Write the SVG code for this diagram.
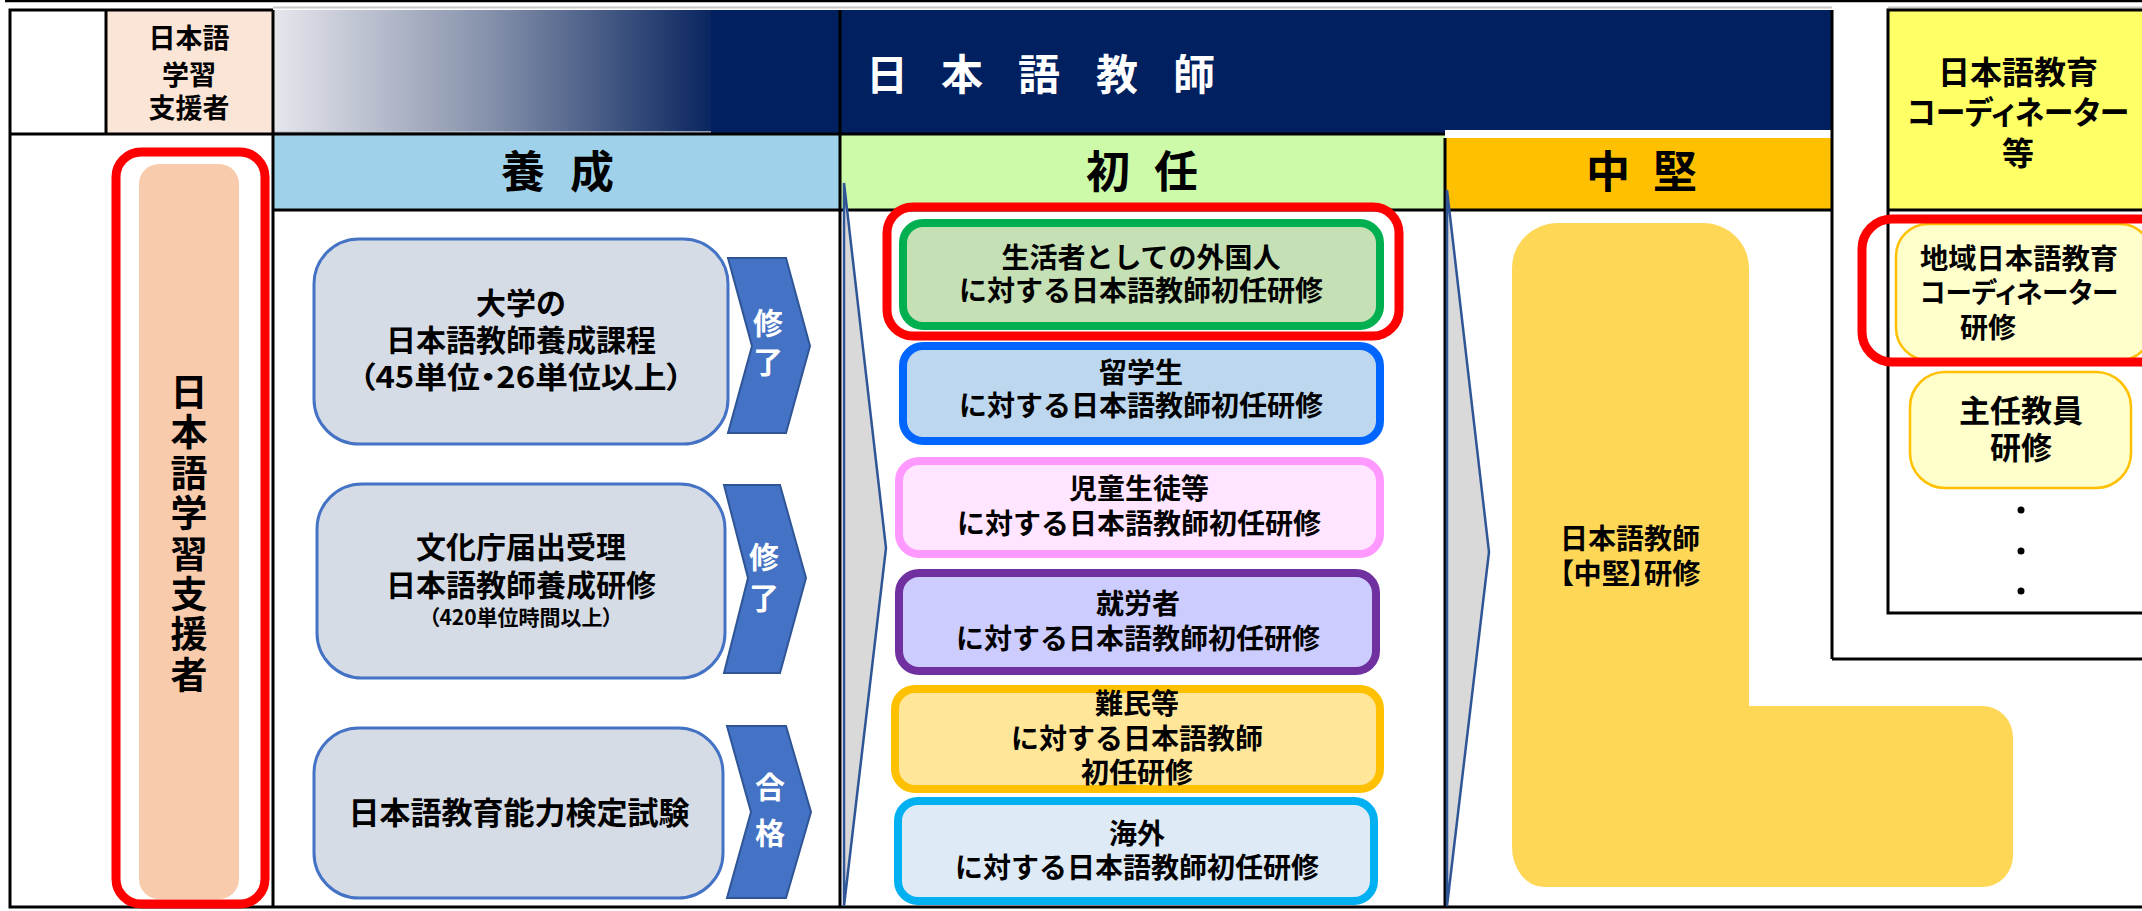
<svg xmlns="http://www.w3.org/2000/svg" width="2142" height="911" viewBox="0 0 2142 911">
<defs>
<linearGradient id="grad" x1="0" y1="0" x2="1" y2="0">
<stop offset="0" stop-color="#E6E6EC"/>
<stop offset="0.5" stop-color="#8490AA"/>
<stop offset="1" stop-color="#0A2660"/>
</linearGradient>
<style>
.t{font-family:"Noto Sans CJK JP","Noto Sans",sans-serif;font-weight:700;fill:#000;text-anchor:middle}
.l{text-anchor:start}
.w{fill:#fff}
.palt{font-feature-settings:"palt"}
.grid{stroke:#000;stroke-width:3;fill:none}
.ybox{fill:#D6DCE5;stroke:#4472C4;stroke-width:3}
.chev{fill:#4472C4;stroke:#2F5597;stroke-width:2}
.garrow{fill:#D9D9D9;stroke:#2F5597;stroke-width:2.5}
.red{fill:none;stroke:#FF0000;stroke-width:9}
.cbox{stroke-width:8}
.lyel{fill:#FFFFCC;stroke:#FFC000;stroke-width:2.5}
</style>
</defs>
<rect width="2142" height="911" fill="#fff"/>

<g id="header-backgrounds">
<rect x="106" y="10" width="167" height="124" fill="#FBE5D6"/>
<rect x="273" y="10" width="1559" height="124" fill="#002060"/>
<rect x="273" y="10" width="438" height="122" fill="url(#grad)"/>
<line x1="273" y1="132" x2="711" y2="132" stroke="#C8C8CC" stroke-width="1.5"/>
<rect x="1445" y="130" width="387" height="8" fill="#fff"/>
<rect x="273" y="134" width="567" height="76" fill="#9FD2EA"/>
<rect x="840" y="134" width="605" height="76" fill="#CCFAA8"/>
<rect x="1445" y="138" width="387" height="72" fill="#FFC000"/>
<rect x="1888" y="10" width="254" height="200" fill="#FFFF66"/>
</g>

<g id="grid">
<line x1="5" y1="1" x2="2142" y2="1" stroke="#000" stroke-width="2.5"/>
<line x1="273" y1="7.5" x2="1832" y2="7.5" stroke="#C8C8C8" stroke-width="2"/>
<line x1="1888" y1="7.5" x2="2142" y2="7.5" stroke="#C8C8C8" stroke-width="2"/>
<polyline class="grid" points="273,10 10,10 10,907 2142,907"/>
<line class="grid" x1="106" y1="10" x2="106" y2="134"/>
<line class="grid" x1="273" y1="10" x2="273" y2="907"/>
<line class="grid" x1="10" y1="134" x2="1445" y2="134"/>
<line class="grid" x1="273" y1="210" x2="1832" y2="210"/>
<line x1="840" y1="10" x2="840" y2="907" stroke="#000" stroke-width="3"/>
<line class="grid" x1="1445" y1="138" x2="1445" y2="907"/>
<line class="grid" x1="1832" y1="10" x2="1832" y2="659"/>
<line class="grid" x1="1832" y1="659" x2="2142" y2="659"/>
<polyline class="grid" points="2142,10 1888,10 1888,613 2142,613"/>
<line class="grid" x1="1888" y1="210" x2="2142" y2="210"/>
</g>

<g id="header-texts">
<g id="hdr-supporter">
<text class="t" x="189" y="48" font-size="27">日本語</text>
<text class="t" x="189" y="85" font-size="27">学習</text>
<text class="t" x="189" y="118" font-size="27">支援者</text>
</g>
<g id="hdr-teacher">
<text class="t w" x="887 962 1039 1117 1194" y="90" font-size="42">日本語教師</text>
</g>
<g id="hdr-yousei"><text class="t" x="523 592" y="188" font-size="44">養成</text></g>
<g id="hdr-shonin"><text class="t" x="1108 1176" y="188" font-size="44">初任</text></g>
<g id="hdr-chuken"><text class="t" x="1608 1675" y="188" font-size="44">中堅</text></g>
<g id="hdr-coordinator">
<text class="t" x="2018" y="84" font-size="32">日本語教育</text>
<text class="t palt" x="2018" y="124" font-size="32" textLength="222" lengthAdjust="spacingAndGlyphs">コーディネーター</text>
<text class="t" x="2018" y="165" font-size="32">等</text>
</g>
</g>

<g id="supporter-column">
<rect x="116" y="152" width="149" height="752" rx="25" class="red"/>
<rect x="139" y="164" width="100" height="735" rx="20" fill="#F8CBAD"/>
<text class="t" font-size="37" x="189 189 189 189 189 189 189 189" y="406 446.4 486.8 527.2 567.6 608 648.4 688.8">日本語学習支援者</text>
</g>

<g id="connectors">
<polygon class="chev" points="728,258 786,258 810,346 786,433 728,433 752,346"/>
<polygon class="chev" points="724,485 780,485 806,578 780,673 724,673 748,578"/>
<polygon class="chev" points="727,726 786,726 811,812 786,898 727,898 751,812"/>
<polygon class="garrow" points="844,183 886,548 844,906"/>
<polygon class="garrow" points="1447,190 1489,552 1447,906"/>
<text class="t w" x="768" y="334" font-size="30">修</text>
<text class="t w" x="768" y="373" font-size="30">了</text>
<text class="t w" x="764" y="568" font-size="30">修</text>
<text class="t w" x="764" y="609" font-size="30">了</text>
<text class="t w" x="770" y="798" font-size="30">合</text>
<text class="t w" x="770" y="844" font-size="30">格</text>
</g>

<g id="node-university">
<rect class="ybox" x="314" y="239" width="414" height="205" rx="45"/>
<text class="t" x="521" y="314" font-size="30">大学の</text>
<text class="t" x="521" y="351" font-size="30">日本語教師養成課程</text>
<text class="t palt" x="521" y="388" font-size="30" textLength="324" lengthAdjust="spacingAndGlyphs">（45単位・26単位以上）</text>
</g>
<g id="node-bunkacho">
<rect class="ybox" x="317" y="484" width="408" height="194" rx="45"/>
<text class="t" x="521" y="558" font-size="30">文化庁届出受理</text>
<text class="t" x="521" y="596" font-size="30">日本語教師養成研修</text>
<text class="t palt" x="521" y="625" font-size="21">（420単位時間以上）</text>
</g>
<g id="node-exam">
<rect class="ybox" x="314" y="728" width="409" height="170" rx="45"/>
<text class="t" x="519" y="824" font-size="31">日本語教育能力検定試験</text>
</g>

<g id="node-seikatsusha">
<rect x="887" y="207" width="512" height="129" rx="26" class="red"/>
<rect class="cbox" x="903" y="223" width="477" height="103" rx="20" fill="#C5E0B4" stroke="#00B050"/>
<text class="t" x="1141" y="268" font-size="28">生活者としての外国人</text>
<text class="t" x="1141" y="301" font-size="28">に対する日本語教師初任研修</text>
</g>
<g id="node-ryugakusei">
<rect class="cbox" x="903" y="346" width="477" height="95" rx="20" fill="#BDD7EE" stroke="#0066FF"/>
<text class="t" x="1141" y="383" font-size="28">留学生</text>
<text class="t" x="1141" y="416" font-size="28">に対する日本語教師初任研修</text>
</g>
<g id="node-jido">
<rect class="cbox" x="899" y="461" width="481" height="93" rx="20" fill="#FFE5FF" stroke="#FF99FF"/>
<text class="t" x="1139" y="499" font-size="28">児童生徒等</text>
<text class="t" x="1139" y="534" font-size="28">に対する日本語教師初任研修</text>
</g>
<g id="node-shuro">
<rect class="cbox" x="899" y="573" width="477" height="98" rx="20" fill="#CCCCFF" stroke="#7030A0"/>
<text class="t" x="1138" y="614" font-size="28">就労者</text>
<text class="t" x="1138" y="649" font-size="28">に対する日本語教師初任研修</text>
</g>
<g id="node-nanmin">
<rect class="cbox" x="895" y="689" width="485" height="100" rx="20" fill="#FFE699" stroke="#FFC000"/>
<text class="t" x="1137" y="714" font-size="28">難民等</text>
<text class="t" x="1137" y="749" font-size="28">に対する日本語教師</text>
<text class="t" x="1137" y="783" font-size="28">初任研修</text>
</g>
<g id="node-kaigai">
<rect class="cbox" x="898" y="801" width="476" height="100" rx="20" fill="#DEEBF7" stroke="#00B0F0"/>
<text class="t" x="1137" y="844" font-size="28">海外</text>
<text class="t" x="1137" y="878" font-size="28">に対する日本語教師初任研修</text>
</g>

<g id="node-chuken">
<path d="M1512,268 A46,45 0 0 1 1558,223 L1703,223 A46,45 0 0 1 1749,268 L1749,706 L1982,706 A31,31 0 0 1 2013,737 L2013,856 A31,31 0 0 1 1982,887 L1544,887 A32,40 0 0 1 1512,847 Z" fill="#FFD757"/>
<text class="t" x="1630" y="549" font-size="28">日本語教師</text>
<text class="t palt" x="1630" y="584" font-size="28" textLength="141" lengthAdjust="spacingAndGlyphs">【中堅】研修</text>
</g>

<g id="node-coordinator-training">
<rect class="lyel" x="1896" y="224" width="256" height="136" rx="32"/>
<rect x="1862" y="219" width="320" height="143" rx="30" class="red"/>
<text class="t l" x="1920" y="269" font-size="28" textLength="198" lengthAdjust="spacingAndGlyphs">地域日本語教育</text>
<text class="t l palt" x="1920" y="303" font-size="28" textLength="198" lengthAdjust="spacingAndGlyphs">コーディネーター</text>
<text class="t l" x="1960" y="338" font-size="28">研修</text>
</g>
<g id="node-shunin">
<rect class="lyel" x="1910" y="372" width="221" height="116" rx="35"/>
<text class="t" x="2021" y="422" font-size="31">主任教員</text>
<text class="t" x="2021" y="459" font-size="31">研修</text>
</g>
<g id="dots">
<circle cx="2021" cy="510" r="3.5" fill="#000"/>
<circle cx="2021" cy="551" r="3.5" fill="#000"/>
<circle cx="2021" cy="591" r="3.5" fill="#000"/>
</g>
</svg>
